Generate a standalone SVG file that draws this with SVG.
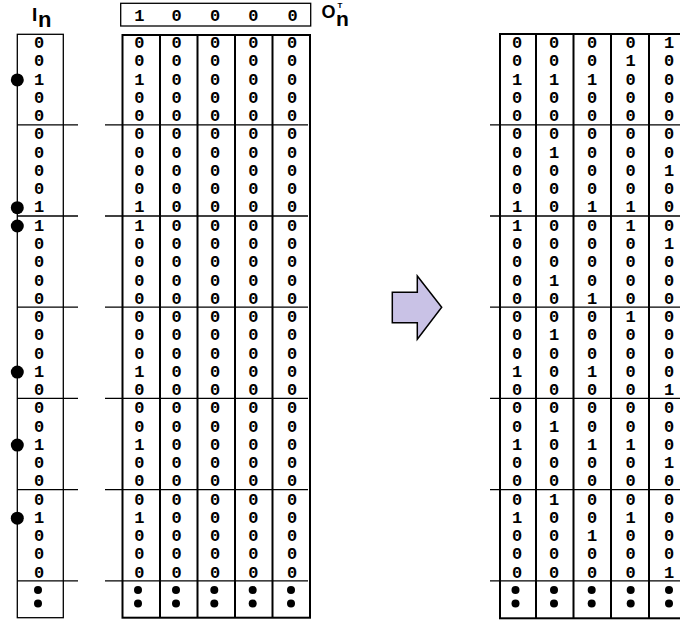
<svg xmlns="http://www.w3.org/2000/svg" width="680" height="621" viewBox="0 0 680 621">
<style>
.d{font-family:"Liberation Mono","Courier New",monospace;font-weight:bold;font-size:17px;text-anchor:middle;fill:#000}
.lbl{font-family:"Liberation Sans",Arial,sans-serif;font-weight:bold;fill:#000}
.thin{fill:none;stroke:#000;stroke-width:1.3}
.thick{fill:none;stroke:#000;stroke-width:2}
.sep{stroke:#000;stroke-width:1.3}
.bul{fill:#000}
</style>
<rect width="680" height="621" fill="#fff"/>

<g id="label-In">
<text class="lbl" x="32" y="20.7" font-size="19">I</text>
<text class="lbl" x="38" y="26.7" font-size="22">n</text>
</g>

<g id="label-OnT">
<text class="lbl" x="321.5" y="18" font-size="18">O</text>
<text class="lbl" x="337.5" y="7.5" font-size="8">T</text>
<text class="lbl" x="336" y="26" font-size="21">n</text>
</g>

<g id="vector-OnT">
<rect class="thin" x="120.7" y="3.3" width="190" height="22.7"/>
<g class="d">
<text x="139.3" y="20.5">1</text><text x="176.5" y="20.5">0</text><text x="215" y="20.5">0</text><text x="253.3" y="20.5">0</text><text x="292.5" y="20.5">0</text>
</g>
</g>

<g id="matrix-In">
<rect class="thin" x="17.3" y="34.3" width="46" height="583.4"/>
<g class="sep">
<line x1="17" y1="124.8" x2="78" y2="124.8"/>
<line x1="17" y1="216" x2="78" y2="216"/>
<line x1="17" y1="307.2" x2="78" y2="307.2"/>
<line x1="17" y1="398.4" x2="78" y2="398.4"/>
<line x1="17" y1="489.6" x2="78" y2="489.6"/>
<line x1="17" y1="580.8" x2="78" y2="580.8"/>
</g>
<g class="bul">
<circle cx="17.3" cy="79.9" r="6.5"/>
<circle cx="17.3" cy="207.7" r="6.5"/>
<circle cx="17.3" cy="226" r="6.5"/>
<circle cx="17.3" cy="372.1" r="6.5"/>
<circle cx="17.3" cy="445.1" r="6.5"/>
<circle cx="17.3" cy="518.2" r="6.5"/>
<circle cx="38" cy="590" r="4"/>
<circle cx="38" cy="603.5" r="4"/>
</g>
<g class="d">
<text x="39" y="48.1">0</text>
<text x="39" y="66.4">0</text>
<text x="39" y="84.6">1</text>
<text x="39" y="102.9">0</text>
<text x="39" y="121.1">0</text>
<text x="39" y="139.4">0</text>
<text x="39" y="157.7">0</text>
<text x="39" y="175.9">0</text>
<text x="39" y="194.2">0</text>
<text x="39" y="212.4">1</text>
<text x="39" y="230.7">1</text>
<text x="39" y="249">0</text>
<text x="39" y="267.2">0</text>
<text x="39" y="285.5">0</text>
<text x="39" y="303.7">0</text>
<text x="39" y="322">0</text>
<text x="39" y="340.3">0</text>
<text x="39" y="358.5">0</text>
<text x="39" y="376.8">1</text>
<text x="39" y="395">0</text>
<text x="39" y="413.3">0</text>
<text x="39" y="431.6">0</text>
<text x="39" y="449.8">1</text>
<text x="39" y="468.1">0</text>
<text x="39" y="486.3">0</text>
<text x="39" y="504.6">0</text>
<text x="39" y="522.9">1</text>
<text x="39" y="541.1">0</text>
<text x="39" y="559.4">0</text>
<text x="39" y="577.6">0</text>
</g>
</g>

<g id="matrix-product">
<rect class="thick" x="122.5" y="35" width="187.5" height="582.7"/>
<g class="thick">
<line x1="160" y1="35" x2="160" y2="617.7"/>
<line x1="197.5" y1="35" x2="197.5" y2="617.7"/>
<line x1="235" y1="35" x2="235" y2="617.7"/>
<line x1="272.5" y1="35" x2="272.5" y2="617.7"/>
</g>
<g class="sep">
<line x1="105" y1="124.8" x2="308" y2="124.8"/>
<line x1="105" y1="216" x2="308" y2="216"/>
<line x1="105" y1="307.2" x2="308" y2="307.2"/>
<line x1="105" y1="398.4" x2="308" y2="398.4"/>
<line x1="105" y1="489.6" x2="308" y2="489.6"/>
<line x1="105" y1="580.8" x2="308" y2="580.8"/>
</g>
<g class="bul">
<circle cx="138" cy="590" r="4"/><circle cx="138" cy="603.5" r="4"/>
<circle cx="176" cy="590" r="4"/><circle cx="176" cy="603.5" r="4"/>
<circle cx="214.3" cy="590" r="4"/><circle cx="214.3" cy="603.5" r="4"/>
<circle cx="252.7" cy="590" r="4"/><circle cx="252.7" cy="603.5" r="4"/>
<circle cx="291" cy="590" r="4"/><circle cx="291" cy="603.5" r="4"/>
</g>
<g class="d">
<text x="139.3" y="48.1">0</text><text x="176.7" y="48.1">0</text><text x="215" y="48.1">0</text><text x="253.3" y="48.1">0</text><text x="292" y="48.1">0</text>
<text x="139.3" y="66.4">0</text><text x="176.7" y="66.4">0</text><text x="215" y="66.4">0</text><text x="253.3" y="66.4">0</text><text x="292" y="66.4">0</text>
<text x="139.3" y="84.6">1</text><text x="176.7" y="84.6">0</text><text x="215" y="84.6">0</text><text x="253.3" y="84.6">0</text><text x="292" y="84.6">0</text>
<text x="139.3" y="102.9">0</text><text x="176.7" y="102.9">0</text><text x="215" y="102.9">0</text><text x="253.3" y="102.9">0</text><text x="292" y="102.9">0</text>
<text x="139.3" y="121.1">0</text><text x="176.7" y="121.1">0</text><text x="215" y="121.1">0</text><text x="253.3" y="121.1">0</text><text x="292" y="121.1">0</text>
<text x="139.3" y="139.4">0</text><text x="176.7" y="139.4">0</text><text x="215" y="139.4">0</text><text x="253.3" y="139.4">0</text><text x="292" y="139.4">0</text>
<text x="139.3" y="157.7">0</text><text x="176.7" y="157.7">0</text><text x="215" y="157.7">0</text><text x="253.3" y="157.7">0</text><text x="292" y="157.7">0</text>
<text x="139.3" y="175.9">0</text><text x="176.7" y="175.9">0</text><text x="215" y="175.9">0</text><text x="253.3" y="175.9">0</text><text x="292" y="175.9">0</text>
<text x="139.3" y="194.2">0</text><text x="176.7" y="194.2">0</text><text x="215" y="194.2">0</text><text x="253.3" y="194.2">0</text><text x="292" y="194.2">0</text>
<text x="139.3" y="212.4">1</text><text x="176.7" y="212.4">0</text><text x="215" y="212.4">0</text><text x="253.3" y="212.4">0</text><text x="292" y="212.4">0</text>
<text x="139.3" y="230.7">1</text><text x="176.7" y="230.7">0</text><text x="215" y="230.7">0</text><text x="253.3" y="230.7">0</text><text x="292" y="230.7">0</text>
<text x="139.3" y="249">0</text><text x="176.7" y="249">0</text><text x="215" y="249">0</text><text x="253.3" y="249">0</text><text x="292" y="249">0</text>
<text x="139.3" y="267.2">0</text><text x="176.7" y="267.2">0</text><text x="215" y="267.2">0</text><text x="253.3" y="267.2">0</text><text x="292" y="267.2">0</text>
<text x="139.3" y="285.5">0</text><text x="176.7" y="285.5">0</text><text x="215" y="285.5">0</text><text x="253.3" y="285.5">0</text><text x="292" y="285.5">0</text>
<text x="139.3" y="303.7">0</text><text x="176.7" y="303.7">0</text><text x="215" y="303.7">0</text><text x="253.3" y="303.7">0</text><text x="292" y="303.7">0</text>
<text x="139.3" y="322">0</text><text x="176.7" y="322">0</text><text x="215" y="322">0</text><text x="253.3" y="322">0</text><text x="292" y="322">0</text>
<text x="139.3" y="340.3">0</text><text x="176.7" y="340.3">0</text><text x="215" y="340.3">0</text><text x="253.3" y="340.3">0</text><text x="292" y="340.3">0</text>
<text x="139.3" y="358.5">0</text><text x="176.7" y="358.5">0</text><text x="215" y="358.5">0</text><text x="253.3" y="358.5">0</text><text x="292" y="358.5">0</text>
<text x="139.3" y="376.8">1</text><text x="176.7" y="376.8">0</text><text x="215" y="376.8">0</text><text x="253.3" y="376.8">0</text><text x="292" y="376.8">0</text>
<text x="139.3" y="395">0</text><text x="176.7" y="395">0</text><text x="215" y="395">0</text><text x="253.3" y="395">0</text><text x="292" y="395">0</text>
<text x="139.3" y="413.3">0</text><text x="176.7" y="413.3">0</text><text x="215" y="413.3">0</text><text x="253.3" y="413.3">0</text><text x="292" y="413.3">0</text>
<text x="139.3" y="431.6">0</text><text x="176.7" y="431.6">0</text><text x="215" y="431.6">0</text><text x="253.3" y="431.6">0</text><text x="292" y="431.6">0</text>
<text x="139.3" y="449.8">1</text><text x="176.7" y="449.8">0</text><text x="215" y="449.8">0</text><text x="253.3" y="449.8">0</text><text x="292" y="449.8">0</text>
<text x="139.3" y="468.1">0</text><text x="176.7" y="468.1">0</text><text x="215" y="468.1">0</text><text x="253.3" y="468.1">0</text><text x="292" y="468.1">0</text>
<text x="139.3" y="486.3">0</text><text x="176.7" y="486.3">0</text><text x="215" y="486.3">0</text><text x="253.3" y="486.3">0</text><text x="292" y="486.3">0</text>
<text x="139.3" y="504.6">0</text><text x="176.7" y="504.6">0</text><text x="215" y="504.6">0</text><text x="253.3" y="504.6">0</text><text x="292" y="504.6">0</text>
<text x="139.3" y="522.9">1</text><text x="176.7" y="522.9">0</text><text x="215" y="522.9">0</text><text x="253.3" y="522.9">0</text><text x="292" y="522.9">0</text>
<text x="139.3" y="541.1">0</text><text x="176.7" y="541.1">0</text><text x="215" y="541.1">0</text><text x="253.3" y="541.1">0</text><text x="292" y="541.1">0</text>
<text x="139.3" y="559.4">0</text><text x="176.7" y="559.4">0</text><text x="215" y="559.4">0</text><text x="253.3" y="559.4">0</text><text x="292" y="559.4">0</text>
<text x="139.3" y="577.6">0</text><text x="176.7" y="577.6">0</text><text x="215" y="577.6">0</text><text x="253.3" y="577.6">0</text><text x="292" y="577.6">0</text>
</g>
</g>

<g id="matrix-result">
<rect class="thick" x="500" y="34" width="188" height="584.3"/>
<g class="thick">
<line x1="536" y1="34" x2="536" y2="618.3"/>
<line x1="573.5" y1="34" x2="573.5" y2="618.3"/>
<line x1="611" y1="34" x2="611" y2="618.3"/>
<line x1="649" y1="34" x2="649" y2="618.3"/>
</g>
<g class="sep">
<line x1="490" y1="124.8" x2="680" y2="124.8"/>
<line x1="490" y1="216" x2="680" y2="216"/>
<line x1="490" y1="307.2" x2="680" y2="307.2"/>
<line x1="490" y1="398.4" x2="680" y2="398.4"/>
<line x1="490" y1="489.6" x2="680" y2="489.6"/>
<line x1="490" y1="580.8" x2="680" y2="580.8"/>
</g>
<g class="bul">
<circle cx="515.5" cy="590" r="4"/><circle cx="515.5" cy="603.5" r="4"/>
<circle cx="554" cy="590" r="4"/><circle cx="554" cy="603.5" r="4"/>
<circle cx="591.7" cy="590" r="4"/><circle cx="591.7" cy="603.5" r="4"/>
<circle cx="630.7" cy="590" r="4"/><circle cx="630.7" cy="603.5" r="4"/>
<circle cx="669" cy="590" r="4"/><circle cx="669" cy="603.5" r="4"/>
</g>
<g class="d">
<text x="517" y="48.1">0</text><text x="554" y="48.1">0</text><text x="592" y="48.1">0</text><text x="630.5" y="48.1">0</text><text x="669" y="48.1">1</text>
<text x="517" y="66.4">0</text><text x="554" y="66.4">0</text><text x="592" y="66.4">0</text><text x="630.5" y="66.4">1</text><text x="669" y="66.4">0</text>
<text x="517" y="84.6">1</text><text x="554" y="84.6">1</text><text x="592" y="84.6">1</text><text x="630.5" y="84.6">0</text><text x="669" y="84.6">0</text>
<text x="517" y="102.9">0</text><text x="554" y="102.9">0</text><text x="592" y="102.9">0</text><text x="630.5" y="102.9">0</text><text x="669" y="102.9">0</text>
<text x="517" y="121.1">0</text><text x="554" y="121.1">0</text><text x="592" y="121.1">0</text><text x="630.5" y="121.1">0</text><text x="669" y="121.1">0</text>
<text x="517" y="139.4">0</text><text x="554" y="139.4">0</text><text x="592" y="139.4">0</text><text x="630.5" y="139.4">0</text><text x="669" y="139.4">0</text>
<text x="517" y="157.7">0</text><text x="554" y="157.7">1</text><text x="592" y="157.7">0</text><text x="630.5" y="157.7">0</text><text x="669" y="157.7">0</text>
<text x="517" y="175.9">0</text><text x="554" y="175.9">0</text><text x="592" y="175.9">0</text><text x="630.5" y="175.9">0</text><text x="669" y="175.9">1</text>
<text x="517" y="194.2">0</text><text x="554" y="194.2">0</text><text x="592" y="194.2">0</text><text x="630.5" y="194.2">0</text><text x="669" y="194.2">0</text>
<text x="517" y="212.4">1</text><text x="554" y="212.4">0</text><text x="592" y="212.4">1</text><text x="630.5" y="212.4">1</text><text x="669" y="212.4">0</text>
<text x="517" y="230.7">1</text><text x="554" y="230.7">0</text><text x="592" y="230.7">0</text><text x="630.5" y="230.7">1</text><text x="669" y="230.7">0</text>
<text x="517" y="249">0</text><text x="554" y="249">0</text><text x="592" y="249">0</text><text x="630.5" y="249">0</text><text x="669" y="249">1</text>
<text x="517" y="267.2">0</text><text x="554" y="267.2">0</text><text x="592" y="267.2">0</text><text x="630.5" y="267.2">0</text><text x="669" y="267.2">0</text>
<text x="517" y="285.5">0</text><text x="554" y="285.5">1</text><text x="592" y="285.5">0</text><text x="630.5" y="285.5">0</text><text x="669" y="285.5">0</text>
<text x="517" y="303.7">0</text><text x="554" y="303.7">0</text><text x="592" y="303.7">1</text><text x="630.5" y="303.7">0</text><text x="669" y="303.7">0</text>
<text x="517" y="322">0</text><text x="554" y="322">0</text><text x="592" y="322">0</text><text x="630.5" y="322">1</text><text x="669" y="322">0</text>
<text x="517" y="340.3">0</text><text x="554" y="340.3">1</text><text x="592" y="340.3">0</text><text x="630.5" y="340.3">0</text><text x="669" y="340.3">0</text>
<text x="517" y="358.5">0</text><text x="554" y="358.5">0</text><text x="592" y="358.5">0</text><text x="630.5" y="358.5">0</text><text x="669" y="358.5">0</text>
<text x="517" y="376.8">1</text><text x="554" y="376.8">0</text><text x="592" y="376.8">1</text><text x="630.5" y="376.8">0</text><text x="669" y="376.8">0</text>
<text x="517" y="395">0</text><text x="554" y="395">0</text><text x="592" y="395">0</text><text x="630.5" y="395">0</text><text x="669" y="395">1</text>
<text x="517" y="413.3">0</text><text x="554" y="413.3">0</text><text x="592" y="413.3">0</text><text x="630.5" y="413.3">0</text><text x="669" y="413.3">0</text>
<text x="517" y="431.6">0</text><text x="554" y="431.6">1</text><text x="592" y="431.6">0</text><text x="630.5" y="431.6">0</text><text x="669" y="431.6">0</text>
<text x="517" y="449.8">1</text><text x="554" y="449.8">0</text><text x="592" y="449.8">1</text><text x="630.5" y="449.8">1</text><text x="669" y="449.8">0</text>
<text x="517" y="468.1">0</text><text x="554" y="468.1">0</text><text x="592" y="468.1">0</text><text x="630.5" y="468.1">0</text><text x="669" y="468.1">1</text>
<text x="517" y="486.3">0</text><text x="554" y="486.3">0</text><text x="592" y="486.3">0</text><text x="630.5" y="486.3">0</text><text x="669" y="486.3">0</text>
<text x="517" y="504.6">0</text><text x="554" y="504.6">1</text><text x="592" y="504.6">0</text><text x="630.5" y="504.6">0</text><text x="669" y="504.6">0</text>
<text x="517" y="522.9">1</text><text x="554" y="522.9">0</text><text x="592" y="522.9">0</text><text x="630.5" y="522.9">1</text><text x="669" y="522.9">0</text>
<text x="517" y="541.1">0</text><text x="554" y="541.1">0</text><text x="592" y="541.1">1</text><text x="630.5" y="541.1">0</text><text x="669" y="541.1">0</text>
<text x="517" y="559.4">0</text><text x="554" y="559.4">0</text><text x="592" y="559.4">0</text><text x="630.5" y="559.4">0</text><text x="669" y="559.4">0</text>
<text x="517" y="577.6">0</text><text x="554" y="577.6">0</text><text x="592" y="577.6">0</text><text x="630.5" y="577.6">0</text><text x="669" y="577.6">1</text>
</g>
</g>

<g id="connectors">
<polygon id="arrow" points="392.3,292.3 417.3,292.3 417.3,276 441.7,307.3 417.3,339.3 417.3,322.7 392.3,322.7" fill="#c9c2e6" stroke="#000" stroke-width="1.5" stroke-linejoin="miter"/>
</g>
</svg>
